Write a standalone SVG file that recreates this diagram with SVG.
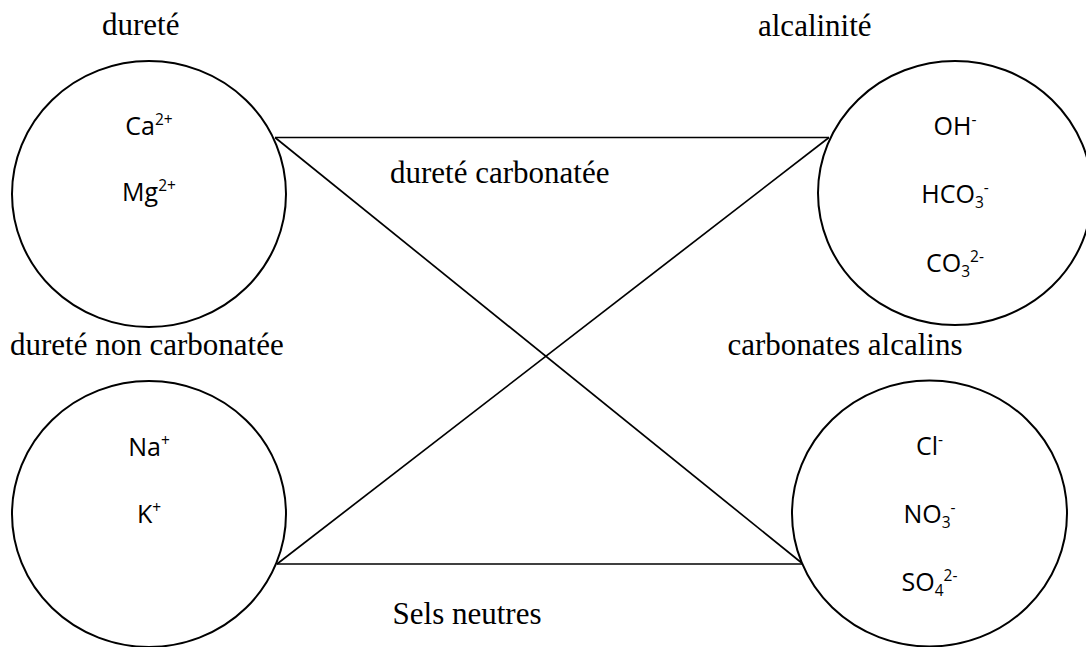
<svg xmlns="http://www.w3.org/2000/svg" width="1086" height="647" viewBox="0 0 1086 647">
<style>
.c{fill:#fff;stroke:#000;stroke-width:2}
.l{stroke:#000;stroke-width:1.7;fill:none}
.ion{font-family:"Open Sans","Noto Sans",sans-serif;font-size:25px;fill:#000;text-anchor:middle}
.s{font-size:15.5px}
.lab{font-family:"Liberation Serif","Times New Roman",serif;font-size:31px;fill:#000}
</style>
<rect width="1086" height="647" fill="#fff"/>
<g id="connectors">
<line class="l" x1="275" y1="137.5" x2="829" y2="137.5"/>
<line class="l" x1="275" y1="137.5" x2="803" y2="564"/>
<line class="l" x1="829" y1="137.5" x2="277" y2="564"/>
<line class="l" x1="277" y1="564" x2="803" y2="564"/>
</g>
<g id="durete">
<ellipse class="c" cx="149" cy="194" rx="137" ry="133"/>
<text class="ion" x="149" y="135">Ca<tspan class="s" dy="-10">2+</tspan></text>
<text class="ion" x="149" y="201">Mg<tspan class="s" dy="-10">2+</tspan></text>
</g>
<g id="alcalinite">
<ellipse class="c" cx="955" cy="193" rx="137" ry="132"/>
<text class="ion" x="955" y="135">OH<tspan class="s" dy="-10">-</tspan></text>
<text class="ion" x="955" y="203">HCO<tspan class="s" dy="5">3</tspan><tspan class="s" dy="-15">-</tspan></text>
<text class="ion" x="955" y="272">CO<tspan class="s" dy="5">3</tspan><tspan class="s" dy="-15">2-</tspan></text>
</g>
<g id="alcalins">
<ellipse class="c" cx="149" cy="514" rx="137" ry="133"/>
<text class="ion" x="149" y="456">Na<tspan class="s" dy="-10">+</tspan></text>
<text class="ion" x="149" y="523">K<tspan class="s" dy="-10">+</tspan></text>
</g>
<g id="anions">
<ellipse class="c" cx="929.5" cy="513.5" rx="137.5" ry="133"/>
<text class="ion" x="929.5" y="455">Cl<tspan class="s" dy="-10">-</tspan></text>
<text class="ion" x="929.5" y="523">NO<tspan class="s" dy="5">3</tspan><tspan class="s" dy="-15">-</tspan></text>
<text class="ion" x="929.5" y="591">SO<tspan class="s" dy="5">4</tspan><tspan class="s" dy="-15">2-</tspan></text>
</g>
<g id="labels">
<text class="lab" x="102" y="35">dureté</text>
<text class="lab" x="758" y="36">alcalinité</text>
<text class="lab" x="390" y="183">dureté carbonatée</text>
<text class="lab" x="10" y="355">dureté non carbonatée</text>
<text class="lab" x="845" y="355" text-anchor="middle">carbonates alcalins</text>
<text class="lab" x="467" y="624" text-anchor="middle">Sels neutres</text>
</g>
</svg>
